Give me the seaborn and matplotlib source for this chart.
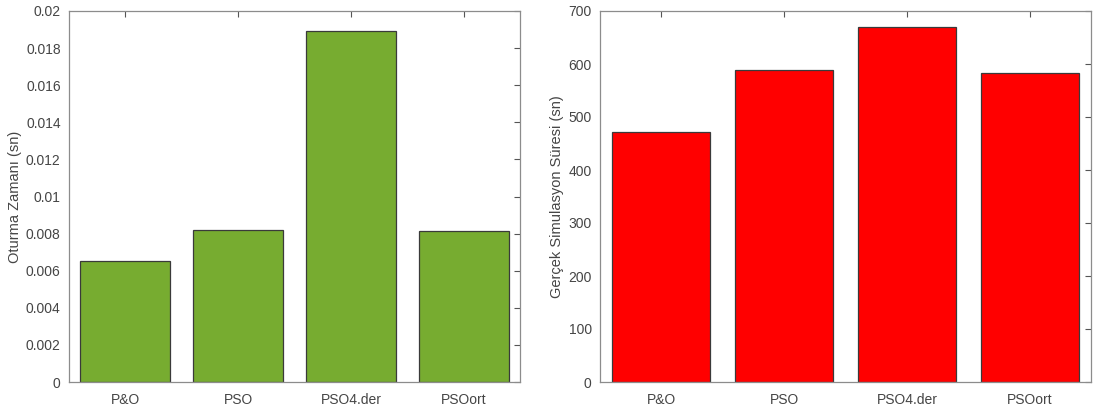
import matplotlib
matplotlib.use("Agg")
import matplotlib.pyplot as plt
import seaborn as sns
import pandas as pd

methods = ["P&O", "PSO", "PSO4.der", "PSOort"]
settling_time = [0.00653, 0.00820, 0.01892, 0.00815]
sim_time = [472, 589, 670, 583]

sns.set_theme(style="white")
plt.rcParams["font.family"] = ["Liberation Sans", "DejaVu Sans"]

text_col = "#454545"
fig = plt.figure(figsize=(11.1, 4.12), dpi=100)
ax1 = fig.add_axes([69 / 1110, 30 / 412, 451 / 1110, 371 / 412])
ax2 = fig.add_axes([600 / 1110, 30 / 412, 491 / 1110, 371 / 412])

panels = [
    (ax1, settling_time, "#77AC30", "Oturma Zamanı (sn)", (0, 0.02),
     [0, 0.002, 0.004, 0.006, 0.008, 0.01, 0.012, 0.014, 0.016, 0.018, 0.02],
     ["0", "0.002", "0.004", "0.006", "0.008", "0.01", "0.012", "0.014", "0.016", "0.018", "0.02"]),
    (ax2, sim_time, "#FF0000", "Gerçek Simulasyon Süresi (sn)", (0, 700),
     [0, 100, 200, 300, 400, 500, 600, 700],
     ["0", "100", "200", "300", "400", "500", "600", "700"]),
]

for ax, vals, col, ylabel, ylim, yt, ytl in panels:
    df = pd.DataFrame({"method": methods, "value": vals})
    sns.barplot(data=df, x="method", y="value", color=col, saturation=1,
                width=0.8, edgecolor="#3a3a3a", linewidth=0.9, ax=ax)
    ax.set_xlim(-0.5, 3.5)
    ax.set_ylim(*ylim)
    ax.set_yticks(yt)
    ax.set_yticklabels(ytl)
    ax.set_xlabel("")
    ax.set_ylabel(ylabel, fontsize=10.5, color=text_col, labelpad=3)
    ax.tick_params(axis="both", direction="in", length=4, width=0.8,
                   top=True, right=True, labelsize=10, colors="#555555",
                   labelcolor=text_col)
    ax.tick_params(axis="y", pad=6)
    ax.tick_params(axis="x", pad=8)
    for s in ax.spines.values():
        s.set_visible(True)
        s.set_color("#8c8c8c")
        s.set_linewidth(0.9)
    ax.set_facecolor("white")

fig.savefig("out.png", dpi=100, facecolor="white")
